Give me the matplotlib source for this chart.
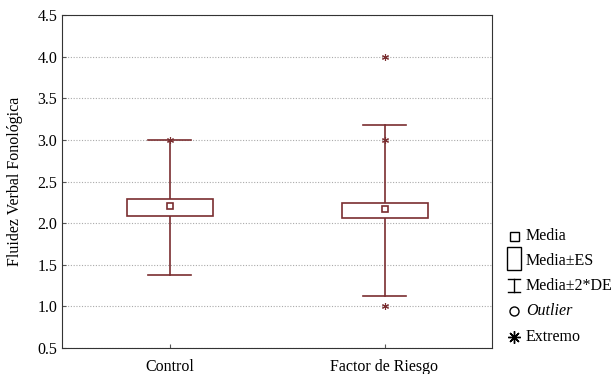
import numpy as np
import matplotlib.pyplot as plt
from matplotlib.patches import Rectangle

plt.rcParams['font.family'] = ['Liberation Serif', 'DejaVu Serif']

groups = ['Control', 'Factor de Riesgo']
means = [2.20, 2.167]
se_low = [2.09, 2.06]
se_high = [2.287, 2.247]
sd_low = [1.38, 1.12]
sd_high = [3.00, 3.18]
extremes = [[3.0], [4.0, 3.0, 1.0]]

col = '#7a2e30'
fs = 11.5

fig = plt.figure(figsize=(6.16, 3.74), dpi=100)
ax = fig.add_axes([62/616, 26/374, 430/616, 333/374])

for i in range(len(groups)):
    ax.plot([i, i], [sd_low[i], se_low[i]], color=col, lw=1.2, zorder=3)
    ax.plot([i, i], [se_high[i], sd_high[i]], color=col, lw=1.2, zorder=3)
    ax.plot([i - 0.1, i + 0.1], [sd_low[i]] * 2, color=col, lw=1.2, zorder=3)
    ax.plot([i - 0.1, i + 0.1], [sd_high[i]] * 2, color=col, lw=1.2, zorder=3)
    ax.add_patch(Rectangle((i - 0.2, se_low[i]), 0.4, se_high[i] - se_low[i],
                           fill=True, fc='white', ec=col, lw=1.2, zorder=3))
    ax.plot(i, means[i], marker='s', ms=5, mfc='white', mec=col, mew=1.2, zorder=4)
    ax.plot([i] * len(extremes[i]), extremes[i], ls='none', marker=(6, 2, 0), ms=5,
            color=col, mew=0.8, zorder=4)

ax.set_xlim(-0.5, 1.5)
ax.set_ylim(0.5, 4.5)
ax.set_xticks(range(len(groups)))
ax.set_xticklabels(groups, fontsize=fs)
ax.set_yticks(np.arange(0.5, 4.51, 0.5))
ax.set_yticklabels(['%.1f' % v for v in np.arange(0.5, 4.51, 0.5)], fontsize=fs)
ax.tick_params(direction='in', length=3, color='#555555')
ax.tick_params(axis='x', pad=8)
ax.grid(axis='y', ls=(0, (1, 1.5)), color='#aaaaaa', lw=0.8)
ax.set_axisbelow(True)
for s in ax.spines.values():
    s.set_color('#333333')
ax.set_ylabel('Fluidez Verbal Fonológica', fontsize=fs, labelpad=10)

# legend drawn by hand, in pixel coords
lg = fig.add_axes([0, 0, 1, 1], facecolor='none')
lg.set_xlim(0, 616)
lg.set_ylim(374, 0)
lg.axis('off')
lx = 514
lg.add_patch(Rectangle((lx - 4.5, 232), 9, 9, fill=False, ec='black', lw=1))
lg.add_patch(Rectangle((lx - 7, 247), 14, 23, fill=False, ec='black', lw=1))
lg.plot([lx - 6, lx + 6], [279, 279], color='black', lw=1)
lg.plot([lx - 6, lx + 6], [292, 292], color='black', lw=1)
lg.plot([lx, lx], [279, 292], color='black', lw=1)
lg.plot(lx, 311, marker='o', ms=6.5, mfc='white', mec='black', mew=1)
lg.plot(lx, 337, marker=(8, 2, 0), ms=9, color='black', mew=1)
labels = ['Media', 'Media±ES', 'Media±2*DE', 'Outlier', 'Extremo']
ys = [236, 261, 286, 311, 337]
for t, y in zip(labels, ys):
    lg.text(526, y, t, fontsize=fs, va='center', ha='left',
            style='italic' if t == 'Outlier' else 'normal')

fig.savefig('out.png', dpi=100)
